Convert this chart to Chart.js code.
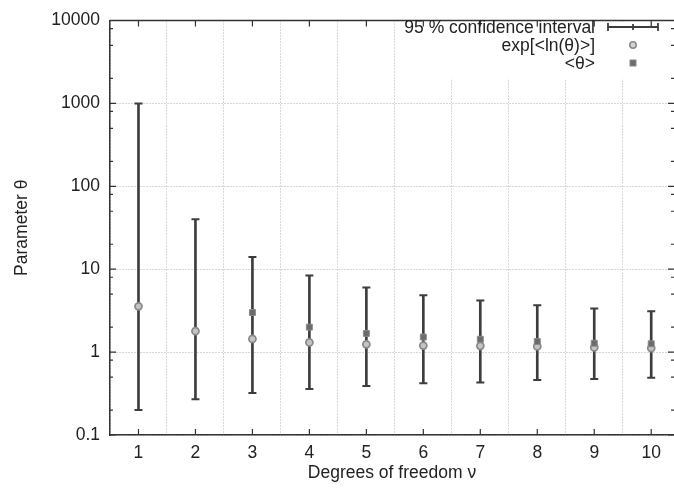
<!DOCTYPE html>
<html>
<head>
<meta charset="utf-8">
<script src="https://cdn.jsdelivr.net/npm/chart.js@4.4.1/dist/chart.umd.min.js"></script>
<style>
  html, body { margin: 0; padding: 0; background: #fff; overflow: hidden; }
  /* the plot frame of the original runs just past the right edge */
  #wrap { width: 680px; height: 493px; }
</style>
</head>
<body>
<div id="wrap"><canvas id="thetaChart"></canvas></div>
<script>
// degrees of freedom
const nu = [1, 2, 3, 4, 5, 6, 7, 8, 9, 10];
// 95 % confidence interval
const ciLower = [0.2, 0.27, 0.32, 0.36, 0.39, 0.42, 0.43, 0.46, 0.475, 0.49];
const ciUpper = [1000, 40, 14, 8.4, 6.0, 4.85, 4.2, 3.67, 3.35, 3.12];
// exp[<ln(theta)>]
const expLnTheta = [3.57, 1.79, 1.44, 1.31, 1.24, 1.2, 1.19, 1.17, 1.14, 1.12];
// <theta>, not drawn for nu = 1, 2
const meanTheta = [null, null, 3.0, 2.0, 1.68, 1.52, 1.43, 1.34, 1.28, 1.26];

const yTickValues = [0.1, 1, 10, 100, 1000, 10000];
const yTickLabels = ['0.1', '1', '10', '100', '1000', '10000'];
const yMinorSteps = [2, 5, 8];

const legendLabels = ['95 % confidence interval', 'exp[<ln(\u03b8)>]', '<\u03b8>'];

const FONT = { family: '"Liberation Sans", Arial, sans-serif', size: 17.5 };
const INK = '#222';
const BAR = '#3d3d3d';
const GRID = '#b0b0b0';

// gnuplot-like frame: inward ticks, top line, opaque key box
const framePlugin = {
    id: 'frame',
    beforeDatasetsDraw(chart) {
        const ctx = chart.ctx;
        ctx.save();
        ctx.fillStyle = '#fff';
        ctx.fillRect(398, chart.chartArea.top + 2, 300, 56);
        ctx.restore();
    },
    afterDraw(chart) {
        const { ctx, chartArea: a, scales } = chart;
        const xs = scales.x, ys = scales.y;
        ctx.save();
        ctx.strokeStyle = '#333';
        ctx.lineWidth = 1.5;
        ctx.beginPath();
        ctx.moveTo(a.left, a.top);
        ctx.lineTo(a.right, a.top);
        ctx.stroke();

        ctx.lineWidth = 1.2;
        ctx.beginPath();
        nu.forEach(v => {
            const px = xs.getPixelForValue(v);
            ctx.moveTo(px, a.bottom); ctx.lineTo(px, a.bottom - 6);
            ctx.moveTo(px, a.top); ctx.lineTo(px, a.top + 6);
        });
        yTickValues.forEach((v, i) => {
            const py = ys.getPixelForValue(v);
            ctx.moveTo(a.left, py); ctx.lineTo(a.left + 6, py);
            ctx.moveTo(a.right, py); ctx.lineTo(a.right - 6, py);
            if (i < yTickValues.length - 1) {
                yMinorSteps.forEach(m => {
                    const pm = ys.getPixelForValue(v * m);
                    ctx.moveTo(a.left, pm); ctx.lineTo(a.left + 3, pm);
                    ctx.moveTo(a.right, pm); ctx.lineTo(a.right - 3, pm);
                });
            }
        });
        ctx.stroke();

        // key
        const tx = 595, sx = 633, rows = [27, 45, 63];
        ctx.font = FONT.size + 'px ' + FONT.family;
        ctx.fillStyle = INK;
        ctx.textAlign = 'right';
        ctx.textBaseline = 'middle';
        legendLabels.forEach((t, i) => ctx.fillText(t, tx, rows[i] + 1));

        ctx.strokeStyle = BAR;
        ctx.lineWidth = 1.8;
        ctx.beginPath();
        ctx.moveTo(608, rows[0]); ctx.lineTo(658, rows[0]);
        ctx.moveTo(608, rows[0] - 4); ctx.lineTo(608, rows[0] + 4);
        ctx.moveTo(658, rows[0] - 4); ctx.lineTo(658, rows[0] + 4);
        ctx.moveTo(sx, rows[0] - 3); ctx.lineTo(sx, rows[0] + 3);
        ctx.stroke();

        ctx.beginPath();
        ctx.arc(sx, rows[1], 3.2, 0, Math.PI * 2);
        ctx.fillStyle = '#d4d4d4';
        ctx.fill();
        ctx.strokeStyle = '#8a8a8a';
        ctx.lineWidth = 1.6;
        ctx.stroke();

        ctx.fillStyle = '#6b6b6b';
        ctx.fillRect(sx - 3, rows[2] - 3, 6, 6);
        ctx.strokeStyle = '#8a8a8a';
        ctx.lineWidth = 1;
        ctx.strokeRect(sx - 3, rows[2] - 3, 6, 6);
        ctx.restore();
    }
};

function initChart() {
    const ctx = document.getElementById('thetaChart');

    new Chart(ctx, {
        type: 'scatter',
        data: {
            datasets: [{
                type: 'bar',
                label: legendLabels[0],
                data: nu.map((x, i) => ({ x: x, y: [ciLower[i], ciUpper[i]] })),
                backgroundColor: BAR,
                borderWidth: 0,
                barThickness: 2,
                order: 4
            }, {
                label: 'caps',
                data: nu.map((x, i) => ({ x: x, y: ciLower[i] }))
                    .concat(nu.map((x, i) => ({ x: x, y: ciUpper[i] }))),
                pointStyle: 'line',
                pointRadius: 4,
                borderWidth: 2,
                borderColor: BAR,
                order: 3
            }, {
                label: legendLabels[1],
                data: nu.map((x, i) => ({ x: x, y: expLnTheta[i] })),
                pointStyle: 'circle',
                pointRadius: 3.5,
                backgroundColor: '#c4c4c4',
                borderColor: '#8a8a8a',
                borderWidth: 1.8,
                order: 2
            }, {
                label: legendLabels[2],
                data: nu.map((x, i) => ({ x: x, y: meanTheta[i] })).filter(p => p.y !== null),
                pointStyle: 'rect',
                pointRadius: 4.2,
                backgroundColor: '#6b6b6b',
                borderColor: '#8a8a8a',
                borderWidth: 1,
                order: 1
            }]
        },
        options: {
            responsive: true,
            maintainAspectRatio: false,
            animation: false,
            layout: { padding: { top: 12, right: 0, bottom: 0, left: 0 } },
            plugins: {
                legend: { display: false },
                tooltip: { enabled: false }
            },
            scales: {
                x: {
                    type: 'linear',
                    min: 0.5,
                    max: 10.4,
                    offset: false,
                    afterBuildTicks: s => { s.ticks = nu.map(v => ({ value: v })); },
                    afterFit: s => {
                        s.height = 58;
                        s.paddingLeft = 0;
                        s.paddingRight = 0;
                    },
                    grid: { color: GRID, lineWidth: 1, drawTicks: false },
                    border: { color: '#333', width: 1.5, dash: [1, 2] },
                    ticks: { font: FONT, color: INK, padding: 8, maxRotation: 0, autoSkip: false },
                    title: {
                        display: true,
                        text: 'Degrees of freedom \u03bd',
                        font: FONT,
                        color: INK,
                        padding: { top: 0, bottom: 9 }
                    }
                },
                y: {
                    type: 'logarithmic',
                    min: 0.1,
                    max: 10000,
                    afterBuildTicks: s => { s.ticks = yTickValues.map(v => ({ value: v, major: true })); },
                    afterFit: s => { s.width = 110; },
                    grid: { color: GRID, lineWidth: 1, drawTicks: false },
                    border: { color: '#333', width: 1.5, dash: [1, 2] },
                    ticks: {
                        font: FONT,
                        color: INK,
                        padding: 10,
                        autoSkip: false,
                        callback: (v, i) => yTickLabels[i]
                    },
                    title: {
                        display: true,
                        text: 'Parameter \u03b8',
                        font: FONT,
                        color: INK,
                        padding: { top: 12, bottom: 0 }
                    }
                }
            }
        },
        plugins: [framePlugin]
    });
}

document.addEventListener('DOMContentLoaded', initChart);
</script>
</body>
</html>
